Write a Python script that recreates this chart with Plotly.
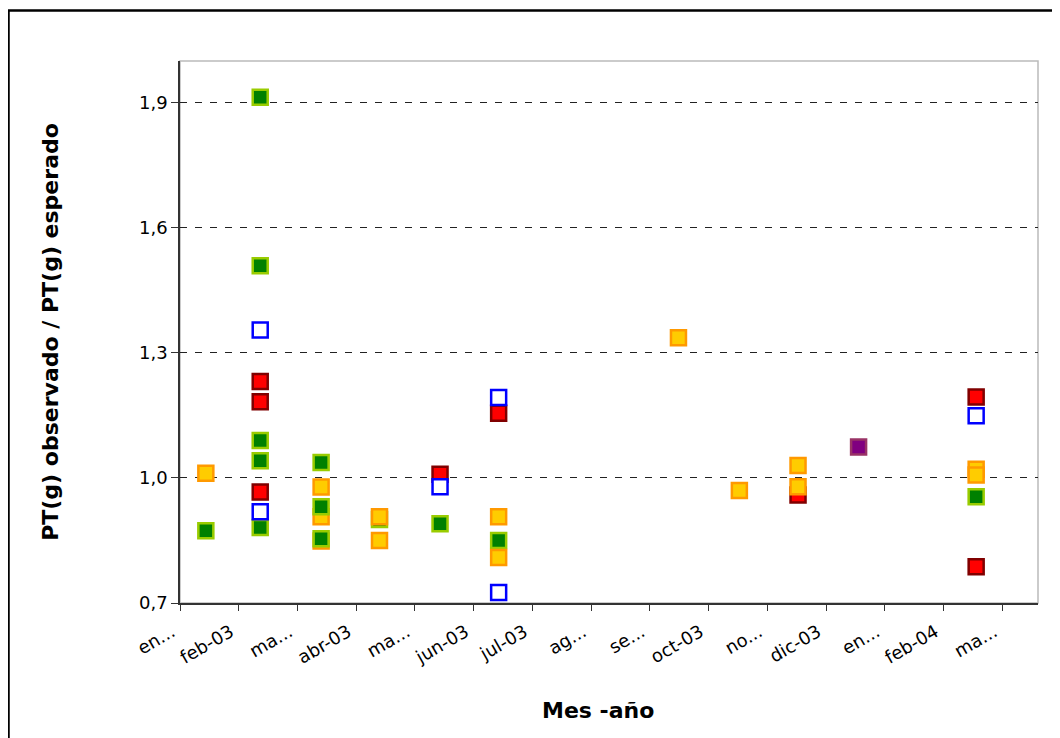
import plotly.graph_objects as go

# ---- data (x in months since Jan-2003) ----
mes_ticks = list(range(15))
mes_labels = ["en...", "feb-03", "ma...", "abr-03", "ma...", "jun-03", "jul-03",
              "ag...", "se...", "oct-03", "no...", "dic-03", "en...", "feb-04", "ma..."]
y_ticks = [0.7, 1.0, 1.3, 1.6, 1.9]

naranja_prev_x = [2.403, 2.403]
naranja_prev_y = [0.907, 0.849]

rojo_x = [1.366, 1.366, 1.366, 4.428, 5.426, 10.524, 13.557, 13.557]
rojo_y = [1.231, 1.183, 0.966, 1.009, 1.155, 0.959, 1.194, 0.787]

verde_x = [0.44, 1.366, 1.366, 1.366, 1.366, 1.366, 2.403, 2.403, 2.403, 3.397, 4.428, 5.426, 13.557]
verde_y = [0.873, 1.913, 1.509, 1.090, 1.041, 0.881, 1.037, 0.931, 0.854, 0.900, 0.890, 0.850, 0.955]

naranja_x = [0.44, 2.403, 3.397, 3.397, 5.426, 5.426, 8.488, 9.525, 10.524, 10.524, 13.557, 13.557]
naranja_y = [1.011, 0.978, 0.907, 0.850, 0.907, 0.809, 1.336, 0.970, 1.030, 0.979, 1.021, 1.007]

azul_x = [1.366, 1.366, 4.428, 5.426, 5.426, 13.557]
azul_y = [1.355, 0.919, 0.979, 1.193, 0.725, 1.149]

morado_x = [11.555]
morado_y = [1.074]

FONT = "DejaVu Sans"


def serie(x, y, fill, border, name):
    return go.Scatter(
        x=x, y=y, mode="markers", name=name, showlegend=False,
        marker=dict(symbol="square", size=15, color=fill,
                    line=dict(color=border, width=2.5)),
    )


fig = go.Figure()
fig.add_trace(serie(naranja_prev_x, naranja_prev_y, "#FFCC00", "#FF9900", "Naranja (a)"))
fig.add_trace(serie(rojo_x, rojo_y, "#FF0000", "#800000", "Rojo"))
fig.add_trace(serie(verde_x, verde_y, "#008000", "#99CC00", "Verde"))
fig.add_trace(serie(naranja_x, naranja_y, "#FFCC00", "#FF9900", "Naranja"))
fig.add_trace(serie(azul_x, azul_y, "#FFFFFF", "#0000FF", "Azul"))
fig.add_trace(serie(morado_x, morado_y, "#800080", "#993366", "Morado"))

# page has an 8px body margin -> figure coords = page coords - 8
W, H = 1052, 730
L, R, T, B = 172, 22, 53, 135
pw, ph = W - L - R, H - T - B


def px_x(p):
    return (p - L) / pw


def px_y(p):
    return (T + ph - p) / ph


fig.update_layout(
    width=W, height=H,
    margin=dict(l=L, r=R, t=T, b=B, autoexpand=False),
    paper_bgcolor="white", plot_bgcolor="white",
    separators=",.",
    font=dict(family=FONT, color="black"),
    showlegend=False,
    xaxis=dict(
        range=[0, 14.61], tickmode="array", tickvals=mes_ticks, ticktext=mes_labels,
        tickangle=-30, ticks="outside", ticklen=6, tickcolor="#333333", tickwidth=1,
        ticklabelshift=-8, ticklabelstandoff=4,
        showline=True, linecolor="#333333", linewidth=1.5,
        showgrid=False, zeroline=False,
        tickfont=dict(family=FONT, size=18, color="black"),
        automargin=False,
    ),
    yaxis=dict(
        range=[0.7, 2.0], tickmode="array", tickvals=y_ticks, tickformat=".1f",
        ticks="outside", ticklen=7, tickcolor="#333333", tickwidth=1,
        showline=True, linecolor="#333333", linewidth=1.5,
        showgrid=True, gridcolor="#222222", gridwidth=1, griddash="7px,8px",
        zeroline=False,
        tickfont=dict(family=FONT, size=18, color="black"),
        title=dict(text="<b>PT(g) observado / PT(g) esperado</b>",
                   font=dict(family=FONT, size=22, color="black"), standoff=74),
        automargin=False,
    ),
    annotations=[
        dict(text="<b>Mes -año</b>", xref="paper", yref="paper",
             x=px_x(590), y=px_y(702), xanchor="center", yanchor="middle",
             showarrow=False, font=dict(family=FONT, size=22, color="black")),
    ],
    shapes=[
        dict(type="rect", xref="paper", yref="paper", x0=0, x1=1, y0=0, y1=1,
             line=dict(color="#BBBBBB", width=1.5), layer="below"),
        dict(type="rect", xref="paper", yref="paper",
             x0=px_x(0.5), x1=px_x(W + 10),
             y0=px_y(H + 10), y1=px_y(2.5),
             line=dict(color="black", width=2.5), layer="above"),
    ],
)

fig.write_html("out.html")
